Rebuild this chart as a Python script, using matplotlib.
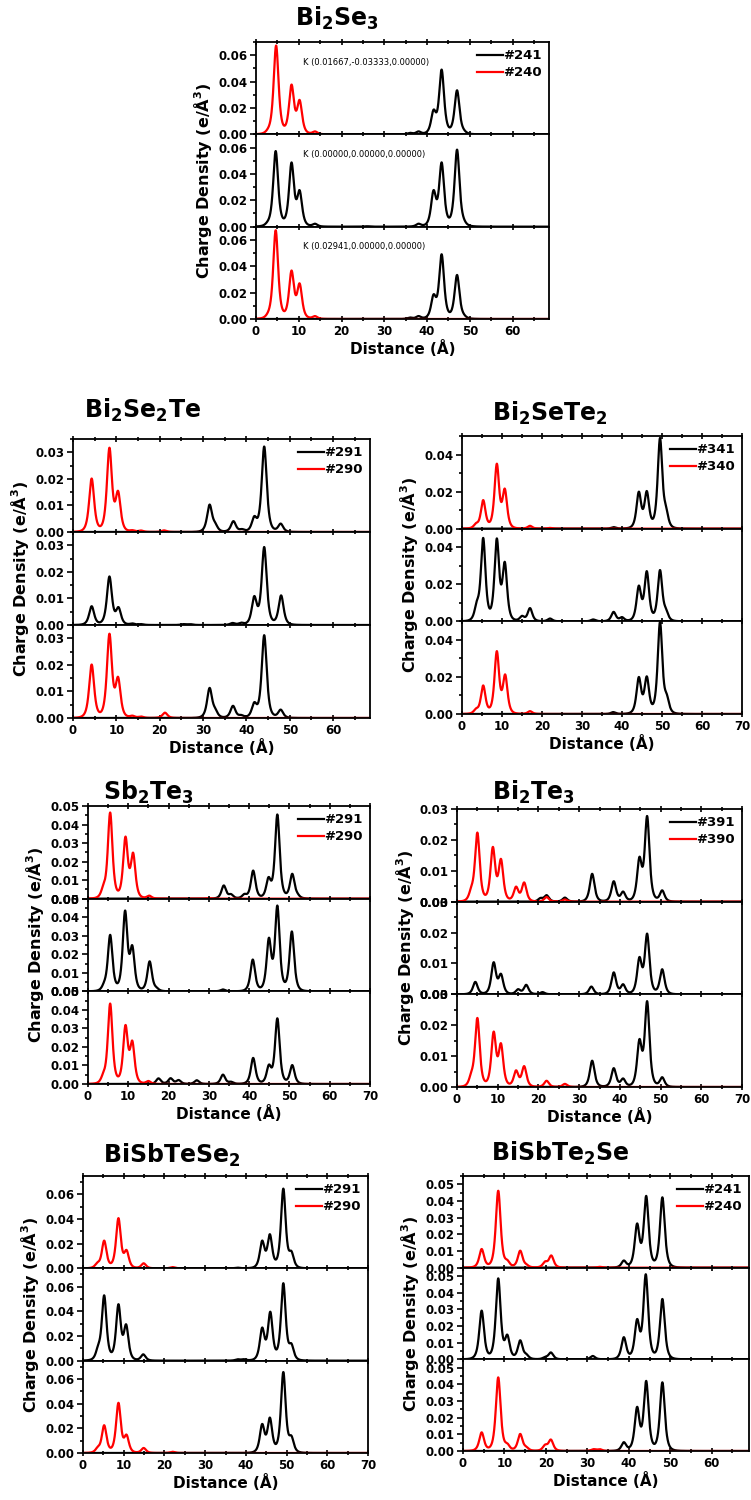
import matplotlib
matplotlib.use('Agg')
import matplotlib.pyplot as plt
from matplotlib.ticker import MultipleLocator, FormatStrFormatter
import numpy as np

plt.rcParams['font.family'] = ['DejaVu Sans']
plt.rcParams['font.weight'] = 'bold'
plt.rcParams['axes.labelweight'] = 'bold'
plt.rcParams['mathtext.default'] = 'regular'

# peaks: (position in Angstrom, charge density)
# Bi2Se3
bi2se3_1_black = [(36.0, 0.001), (38.0, 0.002), (41.5, 0.016), (43.4, 0.048), (47.0, 0.033), (48.6, 0.0008)]
bi2se3_1_red = [(2.8, 0.001), (4.7, 0.067), (8.3, 0.036), (10.2, 0.024), (13.8, 0.002)]
bi2se3_2_black = [(2.7, 0.001), (4.6, 0.057), (8.3, 0.047), (10.2, 0.025), (13.8, 0.002), (26.0, 0.0003),
                  (38.0, 0.002), (41.5, 0.025), (43.4, 0.047), (47.0, 0.058), (48.6, 0.001)]
bi2se3_3_black = [(36.0, 0.001), (38.0, 0.002), (41.5, 0.016), (43.4, 0.048), (47.0, 0.033), (48.6, 0.0008)]
bi2se3_3_red = [(2.8, 0.001), (4.6, 0.067), (8.3, 0.035), (10.2, 0.025), (13.8, 0.002)]
bi2se3_k = ['K (0.01667,-0.03333,0.00000)', 'K (0.00000,0.00000,0.00000)', 'K (0.02941,0.00000,0.00000)']

# Bi2Se2Te
bi2se2te_1_black = [(31.5, 0.010), (32.8, 0.002), (37.0, 0.004), (39.0, 0.0008), (41.8, 0.005),
                    (44.1, 0.032), (47.9, 0.003)]
bi2se2te_1_red = [(4.3, 0.020), (8.4, 0.031), (10.4, 0.014), (13.7, 0.0005), (15.7, 0.0005), (21.0, 0.0006)]
bi2se2te_2_black = [(4.3, 0.007), (8.4, 0.018), (10.5, 0.006), (13.7, 0.0005), (15.7, 0.0003), (25.5, 0.0003),
                    (27.0, 0.0003), (36.8, 0.0007), (38.8, 0.0007), (41.8, 0.010), (44.1, 0.029), (48.0, 0.011)]
bi2se2te_3_black = [(31.5, 0.011), (32.8, 0.002), (36.9, 0.0045), (38.8, 0.0008), (41.8, 0.005),
                    (44.1, 0.031), (47.9, 0.003)]
bi2se2te_3_red = [(4.3, 0.020), (8.4, 0.031), (10.4, 0.014), (13.7, 0.0007), (15.7, 0.0005), (21.2, 0.002)]

# Bi2SeTe2
bi2sete2_1_black = [(37.9, 0.0008), (44.2, 0.019), (46.2, 0.019), (49.5, 0.048), (51.0, 0.007)]
bi2sete2_1_red = [(3.5, 0.002), (5.3, 0.015), (8.7, 0.034), (10.7, 0.020), (17.0, 0.0015), (22.0, 0.0004)]
bi2sete2_2_black = [(3.7, 0.007), (5.3, 0.044), (8.7, 0.043), (10.7, 0.030), (15.0, 0.0025), (17.0, 0.007),
                    (22.0, 0.0015), (32.8, 0.001), (37.9, 0.005), (40.0, 0.002), (44.2, 0.018),
                    (46.2, 0.026), (49.5, 0.027), (51.0, 0.004)]
bi2sete2_3_black = [(37.8, 0.001), (44.2, 0.019), (46.2, 0.019), (49.5, 0.049), (51.2, 0.007)]
bi2sete2_3_red = [(3.5, 0.002), (5.3, 0.015), (8.7, 0.033), (10.8, 0.020), (17.0, 0.0015)]

# Sb2Te3
sb2te3_1_black = [(33.7, 0.007), (35.5, 0.002), (38.8, 0.002), (41.0, 0.015), (44.8, 0.010),
                  (47.0, 0.045), (50.7, 0.013), (52.0, 0.001)]
sb2te3_1_red = [(3.8, 0.004), (5.5, 0.046), (9.3, 0.032), (11.2, 0.023), (15.2, 0.0015), (30.0, 0.0003)]
sb2te3_2_black = [(4.0, 0.002), (5.5, 0.030), (9.2, 0.042), (11.0, 0.022), (15.3, 0.016), (17.0, 0.001),
                  (33.5, 0.001), (40.9, 0.017), (44.9, 0.027), (47.0, 0.045), (50.6, 0.032)]
sb2te3_3_black = [(17.5, 0.003), (20.5, 0.003), (22.5, 0.002), (27.0, 0.002), (33.5, 0.005), (35.5, 0.001),
                  (41.0, 0.014), (44.9, 0.009), (47.0, 0.035), (50.7, 0.010)]
sb2te3_3_red = [(3.8, 0.003), (5.5, 0.043), (9.3, 0.030), (11.0, 0.021), (15.0, 0.0015)]

# Bi2Te3
bi2te3_1_black = [(20.5, 0.001), (22.0, 0.002), (26.5, 0.0013), (33.2, 0.009), (38.5, 0.0065),
                  (40.8, 0.003), (44.8, 0.013), (46.7, 0.027), (50.4, 0.0035)]
bi2te3_1_red = [(3.5, 0.0025), (5.0, 0.022), (8.8, 0.017), (10.8, 0.013), (14.5, 0.0045), (16.5, 0.006),
                (22.0, 0.0015), (26.5, 0.0007)]
bi2te3_2_black = [(4.5, 0.004), (9.0, 0.010), (10.8, 0.006), (15.0, 0.0015), (17.0, 0.003), (21.0, 0.0007),
                  (33.0, 0.0025), (38.5, 0.007), (40.8, 0.003), (44.8, 0.011), (46.7, 0.019), (50.4, 0.008)]
bi2te3_3_black = [(33.2, 0.0085), (38.5, 0.006), (40.8, 0.0025), (44.8, 0.014), (46.7, 0.027), (50.4, 0.003)]
bi2te3_3_red = [(3.5, 0.0025), (5.0, 0.022), (9.0, 0.017), (10.8, 0.013), (14.5, 0.005), (16.5, 0.0065),
                (22.0, 0.002), (26.5, 0.001)]

# BiSbTeSe2
bisbtese2_1_black = [(38.0, 0.0005), (44.0, 0.021), (45.9, 0.026), (49.2, 0.064), (51.2, 0.011)]
bisbtese2_1_red = [(3.5, 0.003), (5.2, 0.022), (8.7, 0.040), (10.7, 0.013), (14.9, 0.004), (22.0, 0.001)]
bisbtese2_2_black = [(3.7, 0.007), (5.2, 0.052), (8.7, 0.044), (10.6, 0.027), (14.8, 0.005), (38.0, 0.001),
                     (39.5, 0.001), (44.0, 0.025), (46.0, 0.038), (49.2, 0.062), (51.2, 0.011)]
bisbtese2_3_black = [(44.0, 0.022), (45.9, 0.027), (49.2, 0.065), (51.2, 0.011)]
bisbtese2_3_red = [(3.6, 0.003), (5.2, 0.022), (8.7, 0.040), (10.7, 0.013), (14.9, 0.004), (22.0, 0.001)]

# BiSbTe2Se
bisbte2se_1_black = [(38.8, 0.004), (42.0, 0.025), (44.2, 0.042), (48.1, 0.042)]
bisbte2se_1_red = [(4.5, 0.011), (8.5, 0.046), (10.7, 0.003), (13.8, 0.010), (15.3, 0.001), (19.8, 0.003),
                   (21.3, 0.007), (33.0, 0.0005)]
bisbte2se_2_black = [(4.5, 0.029), (8.5, 0.048), (10.7, 0.013), (13.8, 0.011), (15.3, 0.002), (19.8, 0.001),
                     (21.2, 0.004), (31.3, 0.002), (38.8, 0.013), (42.0, 0.022), (44.1, 0.050), (48.1, 0.036)]
bisbte2se_3_black = [(38.8, 0.005), (42.0, 0.025), (44.2, 0.041), (48.1, 0.041)]
bisbte2se_3_red = [(4.5, 0.011), (8.5, 0.044), (10.7, 0.003), (13.8, 0.010), (15.3, 0.0015), (19.8, 0.003),
                   (21.2, 0.0065), (31.5, 0.001), (33.0, 0.001)]

W, H = 751, 1500
fig = plt.figure(figsize=(W / 100, H / 100), dpi=100)
x = np.linspace(0, 72, 4000)


def curve(peaks, w=1.05):
    y = np.zeros_like(x)
    for c, h in peaks:
        y += h / (1 + ((x - c) / w) ** 2) ** 2
    return y


def panel(title, tpos, box, xmax, ymax, ystep, xlabels, labels, subs, ktext=None):
    l, t, r, b = box
    hh = (b - t) / 3
    fig.text(tpos[0] / W, 1 - tpos[1] / H, title, fontsize=17, ha='center', va='center')
    axes = []
    for i, (blk, red) in enumerate(subs):
        top = t + i * hh
        ax = fig.add_axes([l / W, 1 - (top + hh) / H, (r - l) / W, hh / H])
        ax.plot(x, curve(blk), color='black', lw=1.6, label=labels[0])
        if red is not None:
            ax.plot(x, curve(red), color='#ff0000', lw=1.6, label=labels[1])
        ax.set_xlim(0, xmax)
        ax.set_ylim(0, ymax)
        ax.xaxis.set_major_locator(MultipleLocator(10))
        ax.xaxis.set_minor_locator(MultipleLocator(5))
        ax.yaxis.set_major_locator(MultipleLocator(ystep))
        ax.yaxis.set_minor_locator(MultipleLocator(ystep / 2))
        ax.yaxis.set_major_formatter(FormatStrFormatter('%.2f'))
        ax.tick_params(axis='y', which='both', direction='out', labelsize=8.5, width=1.2, pad=2)
        ax.tick_params(axis='y', which='major', length=4)
        ax.tick_params(axis='y', which='minor', length=2.5)
        last = i == 2
        ax.tick_params(axis='x', which='both', direction='inout', top=True, bottom=last,
                       labelbottom=last, labelsize=8.5, width=1.2, pad=2)
        ax.tick_params(axis='x', which='major', length=5)
        ax.tick_params(axis='x', which='minor', length=3)
        if last:
            ax.set_xticks(xlabels)
        for s in ax.spines.values():
            s.set_linewidth(1.3)
        if ktext is not None:
            ax.text(11.0, ymax * 0.78, ktext[i], fontsize=6, fontweight='normal', va='center')
        if i == 0:
            ax.legend(loc='upper right', frameon=False, fontsize=9.5, handlelength=2.0,
                      handletextpad=0.0, borderaxespad=0.15, labelspacing=0.3)
        if i == 1:
            ax.set_ylabel('Charge Density (e/Å$^{3}$)', fontsize=11.5, labelpad=3)
        if last:
            ax.set_xlabel('Distance (Å)', fontsize=11, labelpad=1)
        axes.append(ax)
    return axes


panel('Bi$_2$Se$_3$', (337, 18), (256, 42, 549, 319), 68.5, 0.07, 0.02, range(0, 61, 10), ['#241', '#240'],
      [(bi2se3_1_black, bi2se3_1_red), (bi2se3_2_black, None), (bi2se3_3_black, bi2se3_3_red)],
      ktext=bi2se3_k)
panel('Bi$_2$Se$_2$Te', (143, 410), (73, 439, 370, 718), 68.5, 0.035, 0.01, range(0, 61, 10), ['#291', '#290'],
      [(bi2se2te_1_black, bi2se2te_1_red), (bi2se2te_2_black, None), (bi2se2te_3_black, bi2se2te_3_red)])
panel('Bi$_2$SeTe$_2$', (550, 413), (462, 436, 742, 714), 70, 0.05, 0.02, range(0, 71, 10), ['#341', '#340'],
      [(bi2sete2_1_black, bi2sete2_1_red), (bi2sete2_2_black, None), (bi2sete2_3_black, bi2sete2_3_red)])
panel('Sb$_2$Te$_3$', (148, 792), (88, 806, 370, 1084), 70, 0.05, 0.01, range(0, 71, 10), ['#291', '#290'],
      [(sb2te3_1_black, sb2te3_1_red), (sb2te3_2_black, None), (sb2te3_3_black, sb2te3_3_red)])
panel('Bi$_2$Te$_3$', (534, 792), (457, 809, 742, 1087), 70, 0.03, 0.01, range(0, 71, 10), ['#391', '#390'],
      [(bi2te3_1_black, bi2te3_1_red), (bi2te3_2_black, None), (bi2te3_3_black, bi2te3_3_red)])
panel('BiSbTeSe$_2$', (172, 1155), (83, 1176, 368, 1453), 70, 0.075, 0.02, range(0, 71, 10), ['#291', '#290'],
      [(bisbtese2_1_black, bisbtese2_1_red), (bisbtese2_2_black, None), (bisbtese2_3_black, bisbtese2_3_red)])
panel('BiSbTe$_2$Se', (560, 1153), (463, 1176, 749, 1451), 69, 0.055, 0.01, range(0, 61, 10), ['#241', '#240'],
      [(bisbte2se_1_black, bisbte2se_1_red), (bisbte2se_2_black, None), (bisbte2se_3_black, bisbte2se_3_red)])

fig.savefig('out.png', dpi=100)
